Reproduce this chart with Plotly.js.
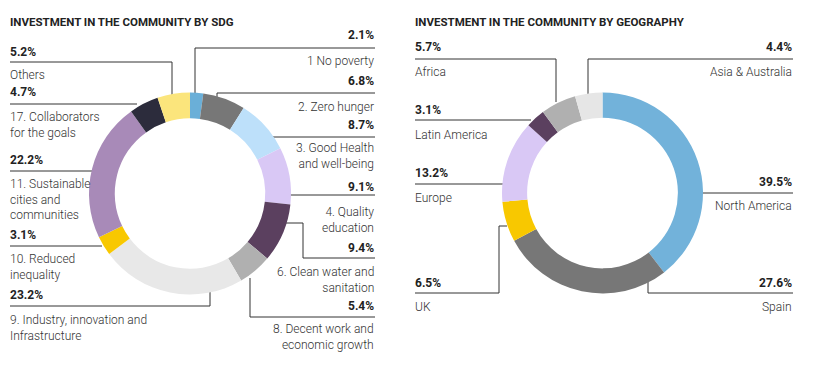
<!DOCTYPE html>
<html>
<head>
<meta charset="utf-8">
<script src="https://cdn.plot.ly/plotly-3.0.1.min.js"></script>
<style>html,body{margin:0;padding:0;background:#fff;}#chart{width:813px;height:368px;}</style>
</head>
<body>
<div id="chart"></div>
<script>
// ---------- DATA ----------
const sdgLabels = ["1 No poverty", "2. Zero hunger", "3. Good Health<br>and well-being", "4. Quality<br>education",
  "6. Clean water and<br>sanitation", "8. Decent work and<br>economic growth", "9. Industry, innovation and<br>Infrastructure",
  "10. Reduced<br>inequality", "11. Sustainable<br>cities and<br>communities", "17. Collaborators<br>for the goals", "Others"];
const sdgValues = [2.1, 6.8, 8.7, 9.1, 9.4, 5.4, 23.2, 3.1, 22.2, 4.7, 5.2];

const geoLabels = ["North America", "Spain", "UK", "Europe", "Latin America", "Africa", "Asia & Australia"];
const geoValues = [39.5, 27.6, 6.5, 13.2, 3.1, 5.7, 4.4];

const titles = ["INVESTMENT IN THE COMMUNITY BY SDG", "INVESTMENT IN THE COMMUNITY BY GEOGRAPHY"];

// ---------- STYLE / LAYOUT ----------
const sdgColors = ["#6aafd8", "#777777", "#bde0fa", "#d9c8f5", "#5b405f", "#b0b0b0", "#e8e8e8", "#f8c800", "#a88ab8", "#2c2c3c", "#fbe57c"];
const geoColors = ["#72b2da", "#777777", "#f8c800", "#d9c8f5", "#5b405f", "#b0b0b0", "#e6e6e6"];

const W = 813, H = 368;
const px = x => x / W, py = y => 1 - y / H;

// label placement: side, pct y, name y, leader path
const sdgPos = [
  {side: "R", x: 376, pctY: 35, nameY: 61, path: [[195, 94], [195, 48], [375, 48]]},
  {side: "R", x: 376, pctY: 81, nameY: 107, path: [[217, 98], [217, 93], [375, 93]]},
  {side: "R", x: 376, pctY: 125, nameY: 156, path: [[272, 137], [375, 137]]},
  {side: "R", x: 376, pctY: 187, nameY: 220, path: [[289, 195], [375, 195]]},
  {side: "R", x: 376, pctY: 248, nameY: 280, path: [[284, 223], [303, 223], [303, 258], [375, 258]]},
  {side: "R", x: 376, pctY: 306, nameY: 337, path: [[250, 278], [250, 317], [375, 317]]},
  {side: "L", x: 8, pctY: 295, nameY: 328, path: [[210, 292], [210, 306], [10, 306]]},
  {side: "L", x: 8, pctY: 235, nameY: 267, path: [[102, 246], [10, 246]]},
  {side: "L", x: 8, pctY: 160, nameY: 199, path: [[92, 171], [10, 171]]},
  {side: "L", x: 8, pctY: 92, nameY: 125, path: [[137, 104], [10, 104]]},
  {side: "L", x: 8, pctY: 52, nameY: 75, path: [[172, 95], [172, 62], [10, 62]]}
];
const geoPos = [
  {side: "R", x: 794, pctY: 182, nameY: 206, path: [[702, 193], [793, 193]]},
  {side: "R", x: 794, pctY: 283, nameY: 307, path: [[648, 282], [648, 293], [793, 293]]},
  {side: "L", x: 413, pctY: 283, nameY: 307, path: [[507, 226], [499, 226], [499, 293], [415, 293]]},
  {side: "L", x: 413, pctY: 173, nameY: 198, path: [[503, 184], [415, 184]]},
  {side: "L", x: 413, pctY: 110, nameY: 135, path: [[531, 120], [415, 120]]},
  {side: "L", x: 413, pctY: 47, nameY: 72, path: [[556, 102], [556, 59], [415, 59]]},
  {side: "R", x: 794, pctY: 47, nameY: 72, path: [[588, 95], [588, 59], [793, 59]]}
];

const FONT = "Roboto, 'Noto Sans', sans-serif";
const TITLE_FONT = "Roboto, 'Noto Sans', sans-serif";
const textColor = "#333333";

const annotations = [];
const shapes = [];

function addLabels(labels, values, pos) {
  labels.forEach((lab, i) => {
    const p = pos[i];
    const anchor = p.side === "R" ? "right" : "left";
    annotations.push({
      xref: "paper", yref: "paper", x: px(p.x), y: py(p.pctY), xanchor: anchor, yanchor: "middle",
      showarrow: false, align: anchor, text: "<b>" + values[i].toFixed(1) + "%</b>",
      font: {family: FONT, size: 12, color: "#222"}
    });
    annotations.push({
      xref: "paper", yref: "paper", x: px(p.x), y: py(p.nameY), xanchor: anchor, yanchor: "middle",
      showarrow: false, align: anchor, text: lab,
      font: {family: FONT, size: 12, color: textColor, weight: 300}
    });
    const d = p.path.map((pt, k) => (k === 0 ? "M" : "L") + px(pt[0]) + "," + py(pt[1])).join(" ");
    shapes.push({type: "path", xref: "paper", yref: "paper", path: d, layer: "below",
      line: {color: "#333", width: 1}});
  });
}
addLabels(sdgLabels, sdgValues, sdgPos);
addLabels(geoLabels, geoValues, geoPos);

[[8, titles[0]], [413, titles[1]]].forEach(t => {
  annotations.push({
    xref: "paper", yref: "paper", x: px(t[0]), y: py(22), xanchor: "left", yanchor: "middle",
    showarrow: false, text: "<b>" + t[1] + "</b>",
    font: {family: TITLE_FONT, size: 11.5, color: "#222"}
  });
});

const traces = [
  {
    type: "pie", labels: sdgLabels, values: sdgValues, sort: false, direction: "clockwise", rotation: 0,
    hole: 0.745, textinfo: "none", hoverinfo: "none",
    marker: {colors: sdgColors, line: {width: 0}},
    domain: {x: [px(89), px(291)], y: [py(294.5), py(92.5)]}
  },
  {
    type: "pie", labels: geoLabels, values: geoValues, sort: false, direction: "clockwise", rotation: 0,
    hole: 0.75, textinfo: "none", hoverinfo: "none",
    marker: {colors: geoColors, line: {width: 0}},
    domain: {x: [px(502), px(703)], y: [py(293.5), py(92.5)]}
  }
];

const layout = {
  width: W, height: H, margin: {l: 0, r: 0, t: 0, b: 0},
  paper_bgcolor: "#fff", plot_bgcolor: "#fff", showlegend: false,
  annotations: annotations, shapes: shapes
};

Plotly.newPlot("chart", traces, layout, {staticPlot: true, displayModeBar: false});
</script>
</body>
</html>
